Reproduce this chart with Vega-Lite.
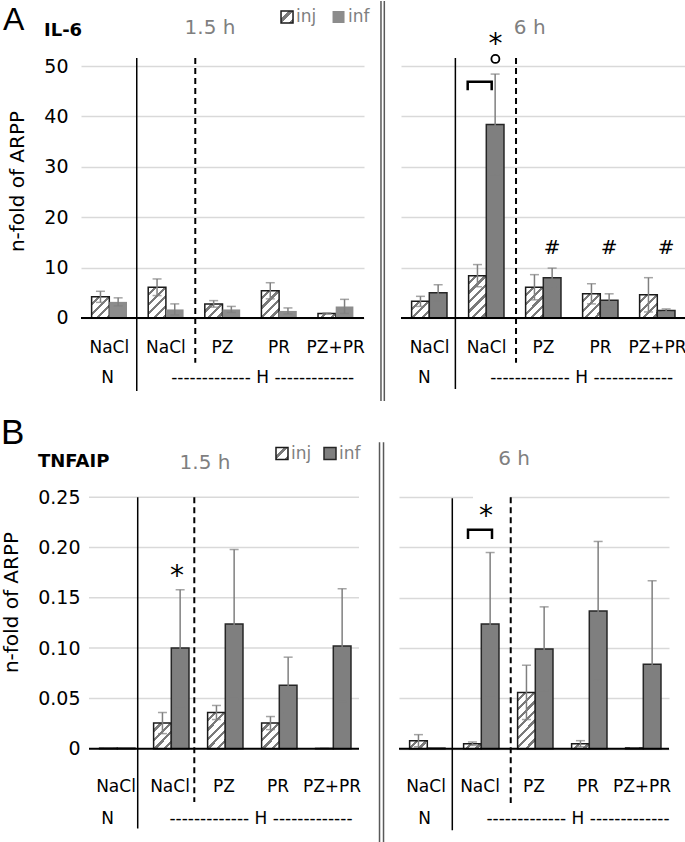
{
"$schema":"https://vega.github.io/schema/vega-lite/v6.json",
"padding":0,
"background":"#ffffff",
"params":[{"name":"hs","expr":"[{offset:0,color:'#ffffff'},{offset:0.065,color:'#ffffff'},{offset:0.065,color:'#7a7a7a'},{offset:0.1,color:'#7a7a7a'},{offset:0.1,color:'#ffffff'},{offset:0.165,color:'#ffffff'},{offset:0.165,color:'#7a7a7a'},{offset:0.2,color:'#7a7a7a'},{offset:0.2,color:'#ffffff'},{offset:0.265,color:'#ffffff'},{offset:0.265,color:'#7a7a7a'},{offset:0.3,color:'#7a7a7a'},{offset:0.3,color:'#ffffff'},{offset:0.365,color:'#ffffff'},{offset:0.365,color:'#7a7a7a'},{offset:0.4,color:'#7a7a7a'},{offset:0.4,color:'#ffffff'},{offset:0.465,color:'#ffffff'},{offset:0.465,color:'#7a7a7a'},{offset:0.5,color:'#7a7a7a'},{offset:0.5,color:'#ffffff'},{offset:0.565,color:'#ffffff'},{offset:0.565,color:'#7a7a7a'},{offset:0.6,color:'#7a7a7a'},{offset:0.6,color:'#ffffff'},{offset:0.665,color:'#ffffff'},{offset:0.665,color:'#7a7a7a'},{offset:0.7,color:'#7a7a7a'},{offset:0.7,color:'#ffffff'},{offset:0.765,color:'#ffffff'},{offset:0.765,color:'#7a7a7a'},{offset:0.8,color:'#7a7a7a'},{offset:0.8,color:'#ffffff'},{offset:0.865,color:'#ffffff'},{offset:0.865,color:'#7a7a7a'},{offset:0.9,color:'#7a7a7a'},{offset:0.9,color:'#ffffff'},{offset:0.965,color:'#ffffff'},{offset:0.965,color:'#7a7a7a'},{offset:1,color:'#7a7a7a'}]"}],
"config":{"view":{"stroke":null},"axis":{"labelFont":"DejaVu Sans","titleFont":"DejaVu Sans"},"text":{"font":"DejaVu Sans"}},
"datasets":{
"A15":[
{"cat":"NaCl_N","type":"inj","value":4.2,"lo":3.1,"hi":5.3},
{"cat":"NaCl_N","type":"inf","value":3.2,"lo":2.4,"hi":4.0},
{"cat":"NaCl_H","type":"inj","value":6.1,"lo":4.45,"hi":7.75},
{"cat":"NaCl_H","type":"inf","value":1.7,"lo":0.6,"hi":2.8},
{"cat":"PZ","type":"inj","value":2.8,"lo":2.15,"hi":3.45},
{"cat":"PZ","type":"inf","value":1.7,"lo":1.1,"hi":2.3},
{"cat":"PR","type":"inj","value":5.4,"lo":3.8,"hi":7.0},
{"cat":"PR","type":"inf","value":1.4,"lo":0.8,"hi":2.0},
{"cat":"PZ+PR","type":"inj","value":0.9,"lo":0.8,"hi":1.0},
{"cat":"PZ+PR","type":"inf","value":2.3,"lo":0.9,"hi":3.7}],
"A6":[
{"cat":"NaCl_N","type":"inj","value":3.3,"lo":2.3,"hi":4.3},
{"cat":"NaCl_N","type":"inf","value":5.0,"lo":3.4,"hi":6.6},
{"cat":"NaCl_H","type":"inj","value":8.4,"lo":6.2,"hi":10.6},
{"cat":"NaCl_H","type":"inf","value":38.4,"lo":28.4,"hi":48.4},
{"cat":"PZ","type":"inj","value":6.1,"lo":3.6,"hi":8.6},
{"cat":"PZ","type":"inf","value":8.0,"lo":6.1,"hi":9.9},
{"cat":"PR","type":"inj","value":4.8,"lo":2.8,"hi":6.8},
{"cat":"PR","type":"inf","value":3.5,"lo":2.2,"hi":4.8},
{"cat":"PZ+PR","type":"inj","value":4.6,"lo":1.2,"hi":8.0},
{"cat":"PZ+PR","type":"inf","value":1.5,"lo":1.2,"hi":1.8}],
"B15":[
{"cat":"NaCl_N","type":"inj","value":0.0006,"lo":0.0003,"hi":0.0009},
{"cat":"NaCl_N","type":"inf","value":0.0006,"lo":0.0003,"hi":0.0009},
{"cat":"NaCl_H","type":"inj","value":0.0255,"lo":0.015,"hi":0.036},
{"cat":"NaCl_H","type":"inf","value":0.1,"lo":0.042,"hi":0.158},
{"cat":"PZ","type":"inj","value":0.036,"lo":0.029,"hi":0.043},
{"cat":"PZ","type":"inf","value":0.124,"lo":0.05,"hi":0.198},
{"cat":"PR","type":"inj","value":0.0255,"lo":0.019,"hi":0.032},
{"cat":"PR","type":"inf","value":0.063,"lo":0.035,"hi":0.091},
{"cat":"PZ+PR","type":"inj","value":0.0003,"lo":0.0002,"hi":0.0004},
{"cat":"PZ+PR","type":"inf","value":0.102,"lo":0.047,"hi":0.159}],
"B6":[
{"cat":"NaCl_N","type":"inj","value":0.008,"lo":0.002,"hi":0.014},
{"cat":"NaCl_N","type":"inf","value":0.0006,"lo":0.0004,"hi":0.0008},
{"cat":"NaCl_H","type":"inj","value":0.005,"lo":0.0033,"hi":0.0067},
{"cat":"NaCl_H","type":"inf","value":0.124,"lo":0.053,"hi":0.195},
{"cat":"PZ","type":"inj","value":0.056,"lo":0.029,"hi":0.083},
{"cat":"PZ","type":"inf","value":0.099,"lo":0.058,"hi":0.141},
{"cat":"PR","type":"inj","value":0.005,"lo":0.002,"hi":0.008},
{"cat":"PR","type":"inf","value":0.137,"lo":0.068,"hi":0.206},
{"cat":"PZ+PR","type":"inj","value":0.0008,"lo":0.0007,"hi":0.0009},
{"cat":"PZ+PR","type":"inf","value":0.084,"lo":0.001,"hi":0.167}],
"cats":[{"cat":"NaCl_N","label":"NaCl"},{"cat":"NaCl_H","label":"NaCl"},{"cat":"PZ","label":"PZ"},{"cat":"PR","label":"PR"},{"cat":"PZ+PR","label":"PZ+PR"}]
},
"spacing":0,
"vconcat":[
{"spacing":14,"hconcat":[
{"width":283,"height":400,"data":{"values":[{}]},
"layer":[
{"data":{"name":"A15"},"transform":[{"filter":"datum.type == 'inj'"}],"mark":{"type":"bar","fill":{"expr":"{gradient:'linear',x1:0,y1:0,x2:95*17.7/(313.3+pow(datum.value*5.04,2)),y2:95*datum.value*5.04/(313.3+pow(datum.value*5.04,2)),stops:hs}"},"stroke":"#1a1a1a","strokeWidth":1.5},
"encoding":{"x":{"field":"cat","type":"nominal","scale":{"domain":["NaCl_N","NaCl_H","PZ","PR","PZ+PR"],"paddingInner":0,"paddingOuter":0},"axis":null},"xOffset":{"field":"type","type":"nominal","scale":{"domain":["inj","inf"],"paddingInner":0,"paddingOuter":0.6}},"y":{"field":"value","type":"quantitative","scale":{"domain":[-16.47,62.9],"nice":false},"axis":{"values":[0,10,20,30,40,50],"grid":true,"gridColor":"#d9d9d9","gridWidth":1.5,"domain":false,"ticks":false,"labelFontSize":19,"labelColor":"#000000","labelPadding":13,"title":"n-fold of ARPP","titleFontSize":20,"titleFontWeight":"normal","titleColor":"#000000","titlePadding":16,"titleY":180}},"y2":{"datum":0}}},
{"data":{"name":"A15"},"transform":[{"filter":"datum.type == 'inf'"}],"mark":{"type":"bar","fill":"#8c8c8c","strokeWidth":0},
"encoding":{"x":{"field":"cat","type":"nominal","scale":{"domain":["NaCl_N","NaCl_H","PZ","PR","PZ+PR"],"paddingInner":0,"paddingOuter":0},"axis":null},"xOffset":{"field":"type","type":"nominal","scale":{"domain":["inj","inf"],"paddingInner":0,"paddingOuter":0.6}},"y":{"field":"value","type":"quantitative","scale":{"domain":[-16.47,62.9],"nice":false}},"y2":{"datum":0}}},
{"data":{"name":"A15"},"mark":{"type":"rule","color":"#7f7f7f","strokeWidth":1.5},
"encoding":{"x":{"field":"cat","type":"nominal","scale":{"domain":["NaCl_N","NaCl_H","PZ","PR","PZ+PR"],"paddingInner":0,"paddingOuter":0},"axis":null},"xOffset":{"field":"type","type":"nominal","scale":{"domain":["inj","inf"],"paddingInner":0,"paddingOuter":0.6}},"y":{"field":"lo","type":"quantitative","scale":{"domain":[-16.47,62.9],"nice":false}},"y2":{"field":"hi"}}},
{"data":{"name":"A15"},"mark":{"type":"tick","color":"#7f7f7f","thickness":1.5,"size":9},
"encoding":{"x":{"field":"cat","type":"nominal","scale":{"domain":["NaCl_N","NaCl_H","PZ","PR","PZ+PR"],"paddingInner":0,"paddingOuter":0},"axis":null},"xOffset":{"field":"type","type":"nominal","scale":{"domain":["inj","inf"],"paddingInner":0,"paddingOuter":0.6}},"y":{"field":"hi","type":"quantitative","scale":{"domain":[-16.47,62.9],"nice":false}}}},
{"data":{"name":"A15"},"mark":{"type":"tick","color":"#7f7f7f","thickness":1.5,"size":9},
"encoding":{"x":{"field":"cat","type":"nominal","scale":{"domain":["NaCl_N","NaCl_H","PZ","PR","PZ+PR"],"paddingInner":0,"paddingOuter":0},"axis":null},"xOffset":{"field":"type","type":"nominal","scale":{"domain":["inj","inf"],"paddingInner":0,"paddingOuter":0.6}},"y":{"field":"lo","type":"quantitative","scale":{"domain":[-16.47,62.9],"nice":false}}}},
{"mark":{"type":"rule","color":"#000000","strokeWidth":2},"encoding":{"y":{"datum":0,"type":"quantitative","scale":{"domain":[-16.47,62.9],"nice":false}}}},
{"mark":{"type":"rule","color":"#000000","strokeWidth":1.5},"encoding":{"x":{"datum":"NaCl_N","type":"nominal","bandPosition":0.985,"scale":{"domain":["NaCl_N","NaCl_H","PZ","PR","PZ+PR"],"paddingInner":0,"paddingOuter":0},"axis":null},"y":{"datum":51.6,"type":"quantitative","scale":{"domain":[-16.47,62.9],"nice":false}},"y2":{"datum":-14.5}}},
{"mark":{"type":"rule","color":"#000000","strokeWidth":2,"strokeDash":[6,4]},"encoding":{"x":{"datum":"NaCl_N","type":"nominal","bandPosition":2.019,"scale":{"domain":["NaCl_N","NaCl_H","PZ","PR","PZ+PR"],"paddingInner":0,"paddingOuter":0},"axis":null},"y":{"datum":51.6,"type":"quantitative","scale":{"domain":[-16.47,62.9],"nice":false}},"y2":{"datum":-8.9}}},
{"mark":{"type":"rule","color":"#595959","strokeWidth":1.5},"encoding":{"x":{"datum":"NaCl_N","type":"nominal","bandPosition":5.3,"scale":{"domain":["NaCl_N","NaCl_H","PZ","PR","PZ+PR"],"paddingInner":0,"paddingOuter":0},"axis":null}}},
{"mark":{"type":"rule","color":"#595959","strokeWidth":1.5},"encoding":{"x":{"datum":"NaCl_N","type":"nominal","bandPosition":5.359,"scale":{"domain":["NaCl_N","NaCl_H","PZ","PR","PZ+PR"],"paddingInner":0,"paddingOuter":0},"axis":null}}},
{"data":{"name":"cats"},"mark":{"type":"text","fontSize":17,"baseline":"middle","align":"center","color":"#000000"},"encoding":{"x":{"field":"cat","type":"nominal","scale":{"domain":["NaCl_N","NaCl_H","PZ","PR","PZ+PR"],"paddingInner":0,"paddingOuter":0},"axis":null},"y":{"datum":-5.89,"type":"quantitative","scale":{"domain":[-16.47,62.9],"nice":false}},"text":{"field":"label"}}},
{"mark":{"type":"text","text":"N","fontSize":17,"baseline":"middle","align":"center","color":"#000000"},"encoding":{"x":{"datum":"NaCl_N","type":"nominal","bandPosition":0.472,"scale":{"domain":["NaCl_N","NaCl_H","PZ","PR","PZ+PR"],"paddingInner":0,"paddingOuter":0},"axis":null},"y":{"datum":-11.97,"type":"quantitative","scale":{"domain":[-16.47,62.9],"nice":false}}}},
{"mark":{"type":"text","text":"------------- H -------------","fontSize":17,"baseline":"middle","align":"center","color":"#000000"},"encoding":{"x":{"datum":"NaCl_N","type":"nominal","bandPosition":3.21,"scale":{"domain":["NaCl_N","NaCl_H","PZ","PR","PZ+PR"],"paddingInner":0,"paddingOuter":0},"axis":null},"y":{"datum":-11.97,"type":"quantitative","scale":{"domain":[-16.47,62.9],"nice":false}}}},
{"mark":{"type":"text","text":"A","font":"Liberation Sans","fontSize":32,"baseline":"alphabetic","align":"left","color":"#000000"},"encoding":{"x":{"datum":"NaCl_N","type":"nominal","bandPosition":-1.378,"scale":{"domain":["NaCl_N","NaCl_H","PZ","PR","PZ+PR"],"paddingInner":0,"paddingOuter":0},"axis":null},"y":{"datum":57.14,"type":"quantitative","scale":{"domain":[-16.47,62.9],"nice":false}}}},
{"mark":{"type":"text","text":"IL-6","fontSize":18,"fontWeight":"bold","baseline":"alphabetic","align":"left","color":"#000000"},"encoding":{"x":{"datum":"NaCl_N","type":"nominal","bandPosition":-0.654,"scale":{"domain":["NaCl_N","NaCl_H","PZ","PR","PZ+PR"],"paddingInner":0,"paddingOuter":0},"axis":null},"y":{"datum":55.95,"type":"quantitative","scale":{"domain":[-16.47,62.9],"nice":false}}}},
{"mark":{"type":"text","text":"1.5 h","fontSize":20,"baseline":"alphabetic","align":"center","color":"#7f7f7f"},"encoding":{"x":{"datum":"NaCl_N","type":"nominal","bandPosition":2.279,"scale":{"domain":["NaCl_N","NaCl_H","PZ","PR","PZ+PR"],"paddingInner":0,"paddingOuter":0},"axis":null},"y":{"datum":56.29,"type":"quantitative","scale":{"domain":[-16.47,62.9],"nice":false}}}},
{"mark":{"type":"point","shape":"square","size":144,"filled":true,"fill":{"expr":"{gradient:'linear',x1:0,y1:0,x2:5,y2:5,stops:hs}"},"stroke":"#1a1a1a","strokeWidth":1.5,"opacity":1},"encoding":{"x":{"datum":"NaCl_N","type":"nominal","bandPosition":3.64,"scale":{"domain":["NaCl_N","NaCl_H","PZ","PR","PZ+PR"],"paddingInner":0,"paddingOuter":0},"axis":null},"y":{"datum":59.72,"type":"quantitative","scale":{"domain":[-16.47,62.9],"nice":false}}}},
{"mark":{"type":"text","text":"inj","fontSize":17,"baseline":"middle","align":"left","color":"#7f7f7f"},"encoding":{"x":{"datum":"NaCl_N","type":"nominal","bandPosition":3.8,"scale":{"domain":["NaCl_N","NaCl_H","PZ","PR","PZ+PR"],"paddingInner":0,"paddingOuter":0},"axis":null},"y":{"datum":59.72,"type":"quantitative","scale":{"domain":[-16.47,62.9],"nice":false}}}},
{"mark":{"type":"point","shape":"square","size":144,"filled":true,"fill":"#8c8c8c","strokeWidth":0,"opacity":1},"encoding":{"x":{"datum":"NaCl_N","type":"nominal","bandPosition":4.55,"scale":{"domain":["NaCl_N","NaCl_H","PZ","PR","PZ+PR"],"paddingInner":0,"paddingOuter":0},"axis":null},"y":{"datum":59.72,"type":"quantitative","scale":{"domain":[-16.47,62.9],"nice":false}}}},
{"mark":{"type":"text","text":"inf","fontSize":17,"baseline":"middle","align":"left","color":"#7f7f7f"},"encoding":{"x":{"datum":"NaCl_N","type":"nominal","bandPosition":4.717,"scale":{"domain":["NaCl_N","NaCl_H","PZ","PR","PZ+PR"],"paddingInner":0,"paddingOuter":0},"axis":null},"y":{"datum":59.72,"type":"quantitative","scale":{"domain":[-16.47,62.9],"nice":false}}}}
]},
{"width":285,"height":400,"data":{"values":[{}]},
"layer":[
{"data":{"name":"A6"},"transform":[{"filter":"datum.type == 'inj'"}],"mark":{"type":"bar","fill":{"expr":"{gradient:'linear',x1:0,y1:0,x2:95*17.8/(316.8+pow(datum.value*5.04,2)),y2:95*datum.value*5.04/(316.8+pow(datum.value*5.04,2)),stops:hs}"},"stroke":"#1a1a1a","strokeWidth":1.5},
"encoding":{"x":{"field":"cat","type":"nominal","scale":{"domain":["NaCl_N","NaCl_H","PZ","PR","PZ+PR"],"paddingInner":0,"paddingOuter":0},"axis":null},"xOffset":{"field":"type","type":"nominal","scale":{"domain":["inj","inf"],"paddingInner":0,"paddingOuter":0.6}},"y":{"field":"value","type":"quantitative","scale":{"domain":[-16.47,62.9],"nice":false},"axis":{"values":[0,10,20,30,40,50],"grid":true,"gridColor":"#d9d9d9","gridWidth":1.5,"domain":false,"ticks":false,"labels":false,"title":null}},"y2":{"datum":0}}},
{"data":{"name":"A6"},"transform":[{"filter":"datum.type == 'inf'"}],"mark":{"type":"bar","fill":"#7f7f7f","stroke":"#262626","strokeWidth":1.5},
"encoding":{"x":{"field":"cat","type":"nominal","scale":{"domain":["NaCl_N","NaCl_H","PZ","PR","PZ+PR"],"paddingInner":0,"paddingOuter":0},"axis":null},"xOffset":{"field":"type","type":"nominal","scale":{"domain":["inj","inf"],"paddingInner":0,"paddingOuter":0.6}},"y":{"field":"value","type":"quantitative","scale":{"domain":[-16.47,62.9],"nice":false}},"y2":{"datum":0}}},
{"data":{"name":"A6"},"mark":{"type":"rule","color":"#7f7f7f","strokeWidth":1.5},
"encoding":{"x":{"field":"cat","type":"nominal","scale":{"domain":["NaCl_N","NaCl_H","PZ","PR","PZ+PR"],"paddingInner":0,"paddingOuter":0},"axis":null},"xOffset":{"field":"type","type":"nominal","scale":{"domain":["inj","inf"],"paddingInner":0,"paddingOuter":0.6}},"y":{"field":"lo","type":"quantitative","scale":{"domain":[-16.47,62.9],"nice":false}},"y2":{"field":"hi"}}},
{"data":{"name":"A6"},"mark":{"type":"tick","color":"#7f7f7f","thickness":1.5,"size":9},
"encoding":{"x":{"field":"cat","type":"nominal","scale":{"domain":["NaCl_N","NaCl_H","PZ","PR","PZ+PR"],"paddingInner":0,"paddingOuter":0},"axis":null},"xOffset":{"field":"type","type":"nominal","scale":{"domain":["inj","inf"],"paddingInner":0,"paddingOuter":0.6}},"y":{"field":"hi","type":"quantitative","scale":{"domain":[-16.47,62.9],"nice":false}}}},
{"data":{"name":"A6"},"mark":{"type":"tick","color":"#7f7f7f","thickness":1.5,"size":9},
"encoding":{"x":{"field":"cat","type":"nominal","scale":{"domain":["NaCl_N","NaCl_H","PZ","PR","PZ+PR"],"paddingInner":0,"paddingOuter":0},"axis":null},"xOffset":{"field":"type","type":"nominal","scale":{"domain":["inj","inf"],"paddingInner":0,"paddingOuter":0.6}},"y":{"field":"lo","type":"quantitative","scale":{"domain":[-16.47,62.9],"nice":false}}}},
{"mark":{"type":"rule","color":"#000000","strokeWidth":2},"encoding":{"y":{"datum":0,"type":"quantitative","scale":{"domain":[-16.47,62.9],"nice":false}}}},
{"mark":{"type":"rule","color":"#000000","strokeWidth":1.5},"encoding":{"x":{"datum":"NaCl_N","type":"nominal","bandPosition":0.954,"scale":{"domain":["NaCl_N","NaCl_H","PZ","PR","PZ+PR"],"paddingInner":0,"paddingOuter":0},"axis":null},"y":{"datum":51.6,"type":"quantitative","scale":{"domain":[-16.47,62.9],"nice":false}},"y2":{"datum":-14.1}}},
{"mark":{"type":"rule","color":"#000000","strokeWidth":2,"strokeDash":[6,4]},"encoding":{"x":{"datum":"NaCl_N","type":"nominal","bandPosition":2.018,"scale":{"domain":["NaCl_N","NaCl_H","PZ","PR","PZ+PR"],"paddingInner":0,"paddingOuter":0},"axis":null},"y":{"datum":51.6,"type":"quantitative","scale":{"domain":[-16.47,62.9],"nice":false}},"y2":{"datum":-8.9}}},
{"data":{"name":"cats"},"mark":{"type":"text","fontSize":17,"baseline":"middle","align":"center","color":"#000000"},"encoding":{"x":{"field":"cat","type":"nominal","scale":{"domain":["NaCl_N","NaCl_H","PZ","PR","PZ+PR"],"paddingInner":0,"paddingOuter":0},"axis":null},"y":{"datum":-5.89,"type":"quantitative","scale":{"domain":[-16.47,62.9],"nice":false}},"text":{"field":"label"}}},
{"mark":{"type":"text","text":"N","fontSize":17,"baseline":"middle","align":"center","color":"#000000"},"encoding":{"x":{"datum":"NaCl_N","type":"nominal","bandPosition":0.41,"scale":{"domain":["NaCl_N","NaCl_H","PZ","PR","PZ+PR"],"paddingInner":0,"paddingOuter":0},"axis":null},"y":{"datum":-11.97,"type":"quantitative","scale":{"domain":[-16.47,62.9],"nice":false}}}},
{"mark":{"type":"text","text":"------------- H -------------","fontSize":17,"baseline":"middle","align":"center","color":"#000000"},"encoding":{"x":{"datum":"NaCl_N","type":"nominal","bandPosition":3.17,"scale":{"domain":["NaCl_N","NaCl_H","PZ","PR","PZ+PR"],"paddingInner":0,"paddingOuter":0},"axis":null},"y":{"datum":-11.97,"type":"quantitative","scale":{"domain":[-16.47,62.9],"nice":false}}}},
{"mark":{"type":"text","text":"6 h","fontSize":20,"baseline":"alphabetic","align":"center","color":"#7f7f7f"},"encoding":{"x":{"datum":"NaCl_N","type":"nominal","bandPosition":2.258,"scale":{"domain":["NaCl_N","NaCl_H","PZ","PR","PZ+PR"],"paddingInner":0,"paddingOuter":0},"axis":null},"y":{"datum":56.35,"type":"quantitative","scale":{"domain":[-16.47,62.9],"nice":false}}}},
{"mark":{"type":"text","text":"*","fontSize":28,"baseline":"alphabetic","align":"center","color":"#000000"},"encoding":{"x":{"datum":"NaCl_N","type":"nominal","bandPosition":1.656,"scale":{"domain":["NaCl_N","NaCl_H","PZ","PR","PZ+PR"],"paddingInner":0,"paddingOuter":0},"axis":null},"y":{"datum":52.5,"type":"quantitative","scale":{"domain":[-16.47,62.9],"nice":false}}}},
{"mark":{"type":"point","shape":"circle","size":64,"filled":false,"color":"#000000","strokeWidth":1.8,"opacity":1},"encoding":{"x":{"datum":"NaCl_N","type":"nominal","bandPosition":1.656,"scale":{"domain":["NaCl_N","NaCl_H","PZ","PR","PZ+PR"],"paddingInner":0,"paddingOuter":0},"axis":null},"y":{"datum":51.4,"type":"quantitative","scale":{"domain":[-16.47,62.9],"nice":false}}}},
{"data":{"name":"A6"},"transform":[{"filter":"datum.type == 'inf' && (datum.cat == 'PZ' || datum.cat == 'PR' || datum.cat == 'PZ+PR')"}],"mark":{"type":"text","text":"#","fontSize":20,"baseline":"alphabetic","align":"center","color":"#000000"},"encoding":{"x":{"field":"cat","type":"nominal","scale":{"domain":["NaCl_N","NaCl_H","PZ","PR","PZ+PR"],"paddingInner":0,"paddingOuter":0},"axis":null},"xOffset":{"field":"type","type":"nominal","scale":{"domain":["inj","inf"],"paddingInner":0,"paddingOuter":0.6}},"y":{"datum":12.7,"type":"quantitative","scale":{"domain":[-16.47,62.9],"nice":false}}}},
{"mark":{"type":"point","shape":"M-1,0.72L-1,0L1,0L1,0.72","size":576,"filled":false,"color":"#000000","strokeWidth":2.5,"opacity":1},"encoding":{"x":{"datum":"NaCl_N","type":"nominal","bandPosition":1.3805,"scale":{"domain":["NaCl_N","NaCl_H","PZ","PR","PZ+PR"],"paddingInner":0,"paddingOuter":0},"axis":null},"y":{"datum":46.9,"type":"quantitative","scale":{"domain":[-16.47,62.9],"nice":false}}}}
]}
]},
{"spacing":13,"hconcat":[
{"width":278,"height":440,"data":{"values":[{}]},
"layer":[
{"mark":{"type":"rule","color":"#d9d9d9","strokeWidth":1.5},"encoding":{"x":{"datum":"NaCl_N","type":"nominal","bandPosition":0,"scale":{"domain":["NaCl_N","NaCl_H","PZ","PR","PZ+PR"],"paddingInner":0,"paddingOuter":0,"range":[8,278]},"axis":null},"x2":{"datum":"PZ+PR","bandPosition":1},"y":{"datum":0.05,"type":"quantitative","scale":{"domain":[-0.0927,0.3446],"nice":false}}}},
{"mark":{"type":"rule","color":"#d9d9d9","strokeWidth":1.5},"encoding":{"x":{"datum":"NaCl_N","type":"nominal","bandPosition":0,"scale":{"domain":["NaCl_N","NaCl_H","PZ","PR","PZ+PR"],"paddingInner":0,"paddingOuter":0,"range":[8,278]},"axis":null},"x2":{"datum":"PZ+PR","bandPosition":1},"y":{"datum":0.1,"type":"quantitative","scale":{"domain":[-0.0927,0.3446],"nice":false}}}},
{"mark":{"type":"rule","color":"#d9d9d9","strokeWidth":1.5},"encoding":{"x":{"datum":"NaCl_N","type":"nominal","bandPosition":0,"scale":{"domain":["NaCl_N","NaCl_H","PZ","PR","PZ+PR"],"paddingInner":0,"paddingOuter":0,"range":[8,278]},"axis":null},"x2":{"datum":"PZ+PR","bandPosition":1},"y":{"datum":0.15,"type":"quantitative","scale":{"domain":[-0.0927,0.3446],"nice":false}}}},
{"mark":{"type":"rule","color":"#d9d9d9","strokeWidth":1.5},"encoding":{"x":{"datum":"NaCl_N","type":"nominal","bandPosition":0,"scale":{"domain":["NaCl_N","NaCl_H","PZ","PR","PZ+PR"],"paddingInner":0,"paddingOuter":0,"range":[8,278]},"axis":null},"x2":{"datum":"PZ+PR","bandPosition":1},"y":{"datum":0.2,"type":"quantitative","scale":{"domain":[-0.0927,0.3446],"nice":false}}}},
{"mark":{"type":"rule","color":"#d9d9d9","strokeWidth":1.5},"encoding":{"x":{"datum":"NaCl_N","type":"nominal","bandPosition":0,"scale":{"domain":["NaCl_N","NaCl_H","PZ","PR","PZ+PR"],"paddingInner":0,"paddingOuter":0,"range":[8,278]},"axis":null},"x2":{"datum":"PZ+PR","bandPosition":1},"y":{"datum":0.25,"type":"quantitative","scale":{"domain":[-0.0927,0.3446],"nice":false}}}},
{"data":{"name":"B15"},"transform":[{"filter":"datum.type == 'inj'"}],"mark":{"type":"bar","fill":{"expr":"{gradient:'linear',x1:0,y1:0,x2:95*18/(324+pow(datum.value*1006,2)),y2:95*datum.value*1006/(324+pow(datum.value*1006,2)),stops:hs}"},"stroke":"#1a1a1a","strokeWidth":1.5},
"encoding":{"x":{"field":"cat","type":"nominal","scale":{"domain":["NaCl_N","NaCl_H","PZ","PR","PZ+PR"],"paddingInner":0,"paddingOuter":0,"range":[8,278]},"axis":null},"xOffset":{"field":"type","type":"nominal","scale":{"domain":["inj","inf"],"paddingInner":0,"paddingOuter":0.5}},"y":{"field":"value","type":"quantitative","scale":{"domain":[-0.0927,0.3446],"nice":false},"axis":{"values":[0,0.05,0.1,0.15,0.2,0.25],"labelExpr":"datum.value == 0 ? '0' : format(datum.value, '.2f')","grid":false,"domain":false,"ticks":false,"labelFontSize":19,"labelColor":"#000000","labelPadding":1,"title":"n-fold of ARPP","titleFontSize":20,"titleFontWeight":"normal","titleColor":"#000000","titlePadding":16,"titleY":200}},"y2":{"datum":0}}},
{"data":{"name":"B15"},"transform":[{"filter":"datum.type == 'inf'"}],"mark":{"type":"bar","fill":"#7f7f7f","stroke":"#262626","strokeWidth":1.5},
"encoding":{"x":{"field":"cat","type":"nominal","scale":{"domain":["NaCl_N","NaCl_H","PZ","PR","PZ+PR"],"paddingInner":0,"paddingOuter":0,"range":[8,278]},"axis":null},"xOffset":{"field":"type","type":"nominal","scale":{"domain":["inj","inf"],"paddingInner":0,"paddingOuter":0.5}},"y":{"field":"value","type":"quantitative","scale":{"domain":[-0.0927,0.3446],"nice":false}},"y2":{"datum":0}}},
{"data":{"name":"B15"},"mark":{"type":"rule","color":"#7f7f7f","strokeWidth":1.5},
"encoding":{"x":{"field":"cat","type":"nominal","scale":{"domain":["NaCl_N","NaCl_H","PZ","PR","PZ+PR"],"paddingInner":0,"paddingOuter":0,"range":[8,278]},"axis":null},"xOffset":{"field":"type","type":"nominal","scale":{"domain":["inj","inf"],"paddingInner":0,"paddingOuter":0.5}},"y":{"field":"lo","type":"quantitative","scale":{"domain":[-0.0927,0.3446],"nice":false}},"y2":{"field":"hi"}}},
{"data":{"name":"B15"},"mark":{"type":"tick","color":"#7f7f7f","thickness":1.5,"size":9},
"encoding":{"x":{"field":"cat","type":"nominal","scale":{"domain":["NaCl_N","NaCl_H","PZ","PR","PZ+PR"],"paddingInner":0,"paddingOuter":0,"range":[8,278]},"axis":null},"xOffset":{"field":"type","type":"nominal","scale":{"domain":["inj","inf"],"paddingInner":0,"paddingOuter":0.5}},"y":{"field":"hi","type":"quantitative","scale":{"domain":[-0.0927,0.3446],"nice":false}}}},
{"data":{"name":"B15"},"mark":{"type":"tick","color":"#7f7f7f","thickness":1.5,"size":9},
"encoding":{"x":{"field":"cat","type":"nominal","scale":{"domain":["NaCl_N","NaCl_H","PZ","PR","PZ+PR"],"paddingInner":0,"paddingOuter":0,"range":[8,278]},"axis":null},"xOffset":{"field":"type","type":"nominal","scale":{"domain":["inj","inf"],"paddingInner":0,"paddingOuter":0.5}},"y":{"field":"lo","type":"quantitative","scale":{"domain":[-0.0927,0.3446],"nice":false}}}},
{"mark":{"type":"rule","color":"#000000","strokeWidth":2},"encoding":{"x":{"datum":"NaCl_N","type":"nominal","bandPosition":0,"scale":{"domain":["NaCl_N","NaCl_H","PZ","PR","PZ+PR"],"paddingInner":0,"paddingOuter":0,"range":[8,278]},"axis":null},"x2":{"datum":"PZ+PR","bandPosition":1},"y":{"datum":0,"type":"quantitative","scale":{"domain":[-0.0927,0.3446],"nice":false}}}},
{"mark":{"type":"rule","color":"#000000","strokeWidth":1.5},"encoding":{"x":{"datum":"NaCl_N","type":"nominal","bandPosition":0.902,"scale":{"domain":["NaCl_N","NaCl_H","PZ","PR","PZ+PR"],"paddingInner":0,"paddingOuter":0,"range":[8,278]},"axis":null},"y":{"datum":0.25,"type":"quantitative","scale":{"domain":[-0.0927,0.3446],"nice":false}},"y2":{"datum":-0.0794}}},
{"mark":{"type":"rule","color":"#000000","strokeWidth":2,"strokeDash":[6,4]},"encoding":{"x":{"datum":"NaCl_N","type":"nominal","bandPosition":1.95,"scale":{"domain":["NaCl_N","NaCl_H","PZ","PR","PZ+PR"],"paddingInner":0,"paddingOuter":0,"range":[8,278]},"axis":null},"y":{"datum":0.25,"type":"quantitative","scale":{"domain":[-0.0927,0.3446],"nice":false}},"y2":{"datum":-0.053}}},
{"mark":{"type":"rule","color":"#595959","strokeWidth":1.5},"encoding":{"x":{"datum":"NaCl_N","type":"nominal","bandPosition":5.38,"scale":{"domain":["NaCl_N","NaCl_H","PZ","PR","PZ+PR"],"paddingInner":0,"paddingOuter":0,"range":[8,278]},"axis":null},"y":{"datum":0.3046,"type":"quantitative","scale":{"domain":[-0.0927,0.3446],"nice":false}},"y2":{"datum":-0.0927}}},
{"mark":{"type":"rule","color":"#595959","strokeWidth":1.5},"encoding":{"x":{"datum":"NaCl_N","type":"nominal","bandPosition":5.454,"scale":{"domain":["NaCl_N","NaCl_H","PZ","PR","PZ+PR"],"paddingInner":0,"paddingOuter":0,"range":[8,278]},"axis":null},"y":{"datum":0.3046,"type":"quantitative","scale":{"domain":[-0.0927,0.3446],"nice":false}},"y2":{"datum":-0.0927}}},
{"data":{"name":"cats"},"mark":{"type":"text","fontSize":17,"baseline":"middle","align":"center","color":"#000000"},"encoding":{"x":{"field":"cat","type":"nominal","scale":{"domain":["NaCl_N","NaCl_H","PZ","PR","PZ+PR"],"paddingInner":0,"paddingOuter":0,"range":[8,278]},"axis":null},"y":{"datum":-0.038,"type":"quantitative","scale":{"domain":[-0.0927,0.3446],"nice":false}},"text":{"field":"label"}}},
{"mark":{"type":"text","text":"N","fontSize":17,"baseline":"middle","align":"center","color":"#000000"},"encoding":{"x":{"datum":"NaCl_N","type":"nominal","bandPosition":0.346,"scale":{"domain":["NaCl_N","NaCl_H","PZ","PR","PZ+PR"],"paddingInner":0,"paddingOuter":0,"range":[8,278]},"axis":null},"y":{"datum":-0.0695,"type":"quantitative","scale":{"domain":[-0.0927,0.3446],"nice":false}}}},
{"mark":{"type":"text","text":"------------- H -------------","fontSize":17,"baseline":"middle","align":"center","color":"#000000"},"encoding":{"x":{"datum":"NaCl_N","type":"nominal","bandPosition":3.185,"scale":{"domain":["NaCl_N","NaCl_H","PZ","PR","PZ+PR"],"paddingInner":0,"paddingOuter":0,"range":[8,278]},"axis":null},"y":{"datum":-0.0695,"type":"quantitative","scale":{"domain":[-0.0927,0.3446],"nice":false}}}},
{"mark":{"type":"text","text":"B","font":"Liberation Sans","fontSize":35,"baseline":"alphabetic","align":"left","color":"#000000"},"encoding":{"x":{"datum":"NaCl_N","type":"nominal","bandPosition":-1.63,"scale":{"domain":["NaCl_N","NaCl_H","PZ","PR","PZ+PR"],"paddingInner":0,"paddingOuter":0,"range":[8,278]},"axis":null},"y":{"datum":0.3029,"type":"quantitative","scale":{"domain":[-0.0927,0.3446],"nice":false}}}},
{"mark":{"type":"text","text":"TNFAIP","fontSize":18,"fontWeight":"bold","baseline":"alphabetic","align":"left","color":"#000000"},"encoding":{"x":{"datum":"NaCl_N","type":"nominal","bandPosition":-0.944,"scale":{"domain":["NaCl_N","NaCl_H","PZ","PR","PZ+PR"],"paddingInner":0,"paddingOuter":0,"range":[8,278]},"axis":null},"y":{"datum":0.28,"type":"quantitative","scale":{"domain":[-0.0927,0.3446],"nice":false}}}},
{"mark":{"type":"text","text":"1.5 h","fontSize":20,"baseline":"alphabetic","align":"center","color":"#7f7f7f"},"encoding":{"x":{"datum":"NaCl_N","type":"nominal","bandPosition":2.148,"scale":{"domain":["NaCl_N","NaCl_H","PZ","PR","PZ+PR"],"paddingInner":0,"paddingOuter":0,"range":[8,278]},"axis":null},"y":{"datum":0.2777,"type":"quantitative","scale":{"domain":[-0.0927,0.3446],"nice":false}}}},
{"mark":{"type":"point","shape":"square","size":144,"filled":true,"fill":{"expr":"{gradient:'linear',x1:0,y1:0,x2:5,y2:5,stops:hs}"},"stroke":"#1a1a1a","strokeWidth":1.5,"opacity":1},"encoding":{"x":{"datum":"NaCl_N","type":"nominal","bandPosition":3.574,"scale":{"domain":["NaCl_N","NaCl_H","PZ","PR","PZ+PR"],"paddingInner":0,"paddingOuter":0,"range":[8,278]},"axis":null},"y":{"datum":0.2934,"type":"quantitative","scale":{"domain":[-0.0927,0.3446],"nice":false}}}},
{"mark":{"type":"text","text":"inj","fontSize":17,"baseline":"middle","align":"left","color":"#7f7f7f"},"encoding":{"x":{"datum":"NaCl_N","type":"nominal","bandPosition":3.741,"scale":{"domain":["NaCl_N","NaCl_H","PZ","PR","PZ+PR"],"paddingInner":0,"paddingOuter":0,"range":[8,278]},"axis":null},"y":{"datum":0.2934,"type":"quantitative","scale":{"domain":[-0.0927,0.3446],"nice":false}}}},
{"mark":{"type":"point","shape":"square","size":144,"filled":true,"fill":"#7f7f7f","stroke":"#262626","strokeWidth":1.5,"opacity":1},"encoding":{"x":{"datum":"NaCl_N","type":"nominal","bandPosition":4.463,"scale":{"domain":["NaCl_N","NaCl_H","PZ","PR","PZ+PR"],"paddingInner":0,"paddingOuter":0,"range":[8,278]},"axis":null},"y":{"datum":0.2934,"type":"quantitative","scale":{"domain":[-0.0927,0.3446],"nice":false}}}},
{"mark":{"type":"text","text":"inf","fontSize":17,"baseline":"middle","align":"left","color":"#7f7f7f"},"encoding":{"x":{"datum":"NaCl_N","type":"nominal","bandPosition":4.63,"scale":{"domain":["NaCl_N","NaCl_H","PZ","PR","PZ+PR"],"paddingInner":0,"paddingOuter":0,"range":[8,278]},"axis":null},"y":{"datum":0.2934,"type":"quantitative","scale":{"domain":[-0.0927,0.3446],"nice":false}}}},
{"mark":{"type":"text","text":"*","fontSize":28,"baseline":"alphabetic","align":"center","color":"#000000"},"encoding":{"x":{"datum":"NaCl_N","type":"nominal","bandPosition":1.63,"scale":{"domain":["NaCl_N","NaCl_H","PZ","PR","PZ+PR"],"paddingInner":0,"paddingOuter":0,"range":[8,278]},"axis":null},"y":{"datum":0.1623,"type":"quantitative","scale":{"domain":[-0.0927,0.3446],"nice":false}}}}
]},
{"width":270,"height":440,"data":{"values":[{}]},
"layer":[
{"data":{"name":"B6"},"transform":[{"filter":"datum.type == 'inj'"}],"mark":{"type":"bar","fill":{"expr":"{gradient:'linear',x1:0,y1:0,x2:95*18/(324+pow(datum.value*1006,2)),y2:95*datum.value*1006/(324+pow(datum.value*1006,2)),stops:hs}"},"stroke":"#1a1a1a","strokeWidth":1.5},
"encoding":{"x":{"field":"cat","type":"nominal","scale":{"domain":["NaCl_N","NaCl_H","PZ","PR","PZ+PR"],"paddingInner":0,"paddingOuter":0},"axis":null},"xOffset":{"field":"type","type":"nominal","scale":{"domain":["inj","inf"],"paddingInner":0,"paddingOuter":0.5}},"y":{"field":"value","type":"quantitative","scale":{"domain":[-0.0927,0.3446],"nice":false},"axis":{"values":[0,0.05,0.1,0.15,0.2,0.25],"grid":true,"gridColor":"#d9d9d9","gridWidth":1.5,"domain":false,"ticks":false,"labels":false,"title":null}},"y2":{"datum":0}}},
{"mark":{"type":"point","shape":"M-1,-0.3L1,-0.3L1,0.3L-1,0.3Z","size":1369,"filled":true,"fill":"#ffffff","strokeWidth":0,"opacity":1},"encoding":{"x":{"datum":"NaCl_N","type":"nominal","bandPosition":1.713,"scale":{"domain":["NaCl_N","NaCl_H","PZ","PR","PZ+PR"],"paddingInner":0,"paddingOuter":0},"axis":null},"y":{"datum":0.2512,"type":"quantitative","scale":{"domain":[-0.0927,0.3446],"nice":false}}}},
{"data":{"name":"B6"},"transform":[{"filter":"datum.type == 'inf'"}],"mark":{"type":"bar","fill":"#7f7f7f","stroke":"#262626","strokeWidth":1.5},
"encoding":{"x":{"field":"cat","type":"nominal","scale":{"domain":["NaCl_N","NaCl_H","PZ","PR","PZ+PR"],"paddingInner":0,"paddingOuter":0},"axis":null},"xOffset":{"field":"type","type":"nominal","scale":{"domain":["inj","inf"],"paddingInner":0,"paddingOuter":0.5}},"y":{"field":"value","type":"quantitative","scale":{"domain":[-0.0927,0.3446],"nice":false}},"y2":{"datum":0}}},
{"data":{"name":"B6"},"mark":{"type":"rule","color":"#7f7f7f","strokeWidth":1.5},
"encoding":{"x":{"field":"cat","type":"nominal","scale":{"domain":["NaCl_N","NaCl_H","PZ","PR","PZ+PR"],"paddingInner":0,"paddingOuter":0},"axis":null},"xOffset":{"field":"type","type":"nominal","scale":{"domain":["inj","inf"],"paddingInner":0,"paddingOuter":0.5}},"y":{"field":"lo","type":"quantitative","scale":{"domain":[-0.0927,0.3446],"nice":false}},"y2":{"field":"hi"}}},
{"data":{"name":"B6"},"mark":{"type":"tick","color":"#7f7f7f","thickness":1.5,"size":9},
"encoding":{"x":{"field":"cat","type":"nominal","scale":{"domain":["NaCl_N","NaCl_H","PZ","PR","PZ+PR"],"paddingInner":0,"paddingOuter":0},"axis":null},"xOffset":{"field":"type","type":"nominal","scale":{"domain":["inj","inf"],"paddingInner":0,"paddingOuter":0.5}},"y":{"field":"hi","type":"quantitative","scale":{"domain":[-0.0927,0.3446],"nice":false}}}},
{"data":{"name":"B6"},"mark":{"type":"tick","color":"#7f7f7f","thickness":1.5,"size":9},
"encoding":{"x":{"field":"cat","type":"nominal","scale":{"domain":["NaCl_N","NaCl_H","PZ","PR","PZ+PR"],"paddingInner":0,"paddingOuter":0},"axis":null},"xOffset":{"field":"type","type":"nominal","scale":{"domain":["inj","inf"],"paddingInner":0,"paddingOuter":0.5}},"y":{"field":"lo","type":"quantitative","scale":{"domain":[-0.0927,0.3446],"nice":false}}}},
{"mark":{"type":"rule","color":"#000000","strokeWidth":2},"encoding":{"y":{"datum":0,"type":"quantitative","scale":{"domain":[-0.0927,0.3446],"nice":false}}}},
{"mark":{"type":"rule","color":"#000000","strokeWidth":1.5},"encoding":{"x":{"datum":"NaCl_N","type":"nominal","bandPosition":0.987,"scale":{"domain":["NaCl_N","NaCl_H","PZ","PR","PZ+PR"],"paddingInner":0,"paddingOuter":0},"axis":null},"y":{"datum":0.249,"type":"quantitative","scale":{"domain":[-0.0927,0.3446],"nice":false}},"y2":{"datum":-0.081}}},
{"mark":{"type":"rule","color":"#000000","strokeWidth":2,"strokeDash":[6,4]},"encoding":{"x":{"datum":"NaCl_N","type":"nominal","bandPosition":2.069,"scale":{"domain":["NaCl_N","NaCl_H","PZ","PR","PZ+PR"],"paddingInner":0,"paddingOuter":0},"axis":null},"y":{"datum":0.25,"type":"quantitative","scale":{"domain":[-0.0927,0.3446],"nice":false}},"y2":{"datum":-0.054}}},
{"data":{"name":"cats"},"mark":{"type":"text","fontSize":17,"baseline":"middle","align":"center","color":"#000000"},"encoding":{"x":{"field":"cat","type":"nominal","scale":{"domain":["NaCl_N","NaCl_H","PZ","PR","PZ+PR"],"paddingInner":0,"paddingOuter":0},"axis":null},"y":{"datum":-0.038,"type":"quantitative","scale":{"domain":[-0.0927,0.3446],"nice":false}},"text":{"field":"label"}}},
{"mark":{"type":"text","text":"N","fontSize":17,"baseline":"middle","align":"center","color":"#000000"},"encoding":{"x":{"datum":"NaCl_N","type":"nominal","bandPosition":0.476,"scale":{"domain":["NaCl_N","NaCl_H","PZ","PR","PZ+PR"],"paddingInner":0,"paddingOuter":0},"axis":null},"y":{"datum":-0.0695,"type":"quantitative","scale":{"domain":[-0.0927,0.3446],"nice":false}}}},
{"mark":{"type":"text","text":"------------- H -------------","fontSize":17,"baseline":"middle","align":"center","color":"#000000"},"encoding":{"x":{"datum":"NaCl_N","type":"nominal","bandPosition":3.315,"scale":{"domain":["NaCl_N","NaCl_H","PZ","PR","PZ+PR"],"paddingInner":0,"paddingOuter":0},"axis":null},"y":{"datum":-0.0695,"type":"quantitative","scale":{"domain":[-0.0927,0.3446],"nice":false}}}},
{"mark":{"type":"text","text":"6 h","fontSize":20,"baseline":"alphabetic","align":"center","color":"#7f7f7f"},"encoding":{"x":{"datum":"NaCl_N","type":"nominal","bandPosition":2.13,"scale":{"domain":["NaCl_N","NaCl_H","PZ","PR","PZ+PR"],"paddingInner":0,"paddingOuter":0},"axis":null},"y":{"datum":0.2817,"type":"quantitative","scale":{"domain":[-0.0927,0.3446],"nice":false}}}},
{"mark":{"type":"text","text":"*","fontSize":28,"baseline":"alphabetic","align":"center","color":"#000000"},"encoding":{"x":{"datum":"NaCl_N","type":"nominal","bandPosition":1.611,"scale":{"domain":["NaCl_N","NaCl_H","PZ","PR","PZ+PR"],"paddingInner":0,"paddingOuter":0},"axis":null},"y":{"datum":0.222,"type":"quantitative","scale":{"domain":[-0.0927,0.3446],"nice":false}}}},
{"mark":{"type":"point","shape":"M-1,0.77L-1,0L1,0L1,0.77","size":576,"filled":false,"color":"#000000","strokeWidth":2.5,"opacity":1},"encoding":{"x":{"datum":"NaCl_N","type":"nominal","bandPosition":1.5,"scale":{"domain":["NaCl_N","NaCl_H","PZ","PR","PZ+PR"],"paddingInner":0,"paddingOuter":0},"axis":null},"y":{"datum":0.2177,"type":"quantitative","scale":{"domain":[-0.0927,0.3446],"nice":false}}}}
]}
]}
]
}
